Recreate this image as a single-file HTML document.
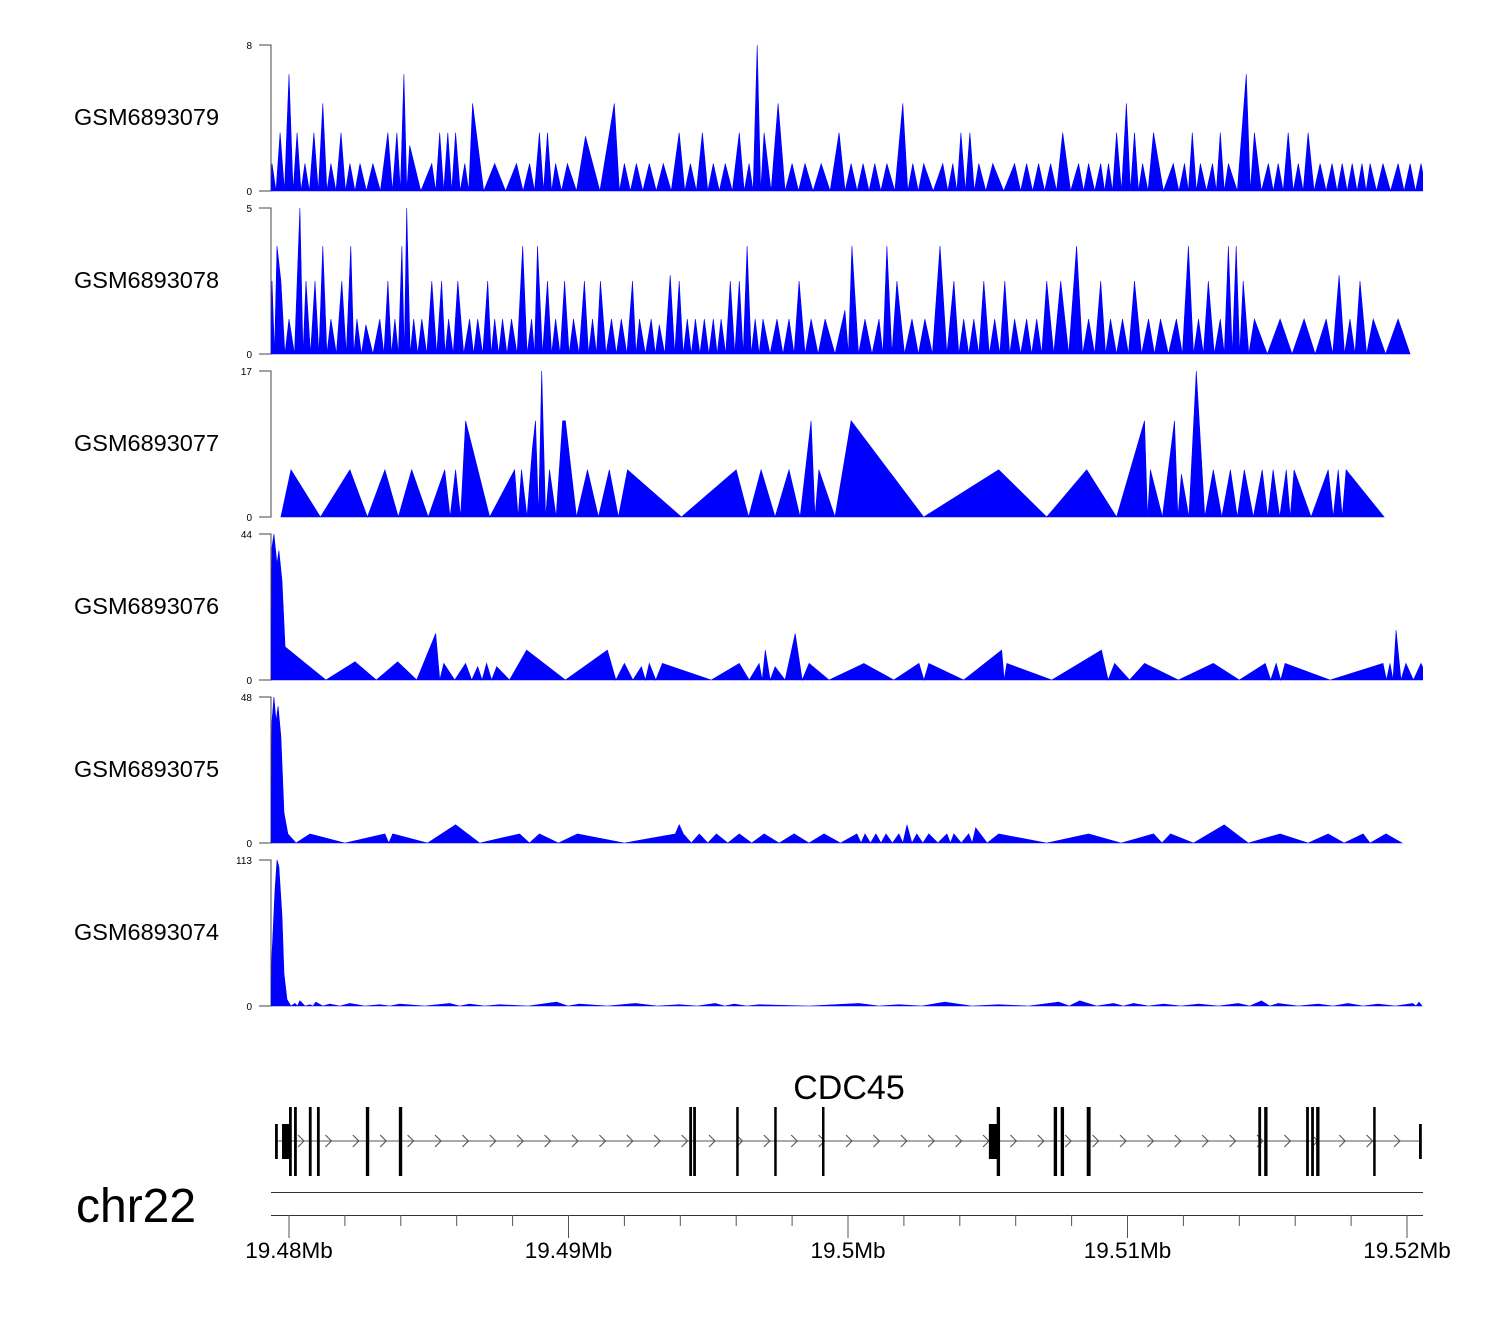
<!DOCTYPE html>
<html><head><meta charset="utf-8"><style>
html,body{margin:0;padding:0;background:#fff;}
svg{display:block;font-family:"Liberation Sans",Arial,sans-serif;}
</style></head><body>
<svg id="chart" width="1500" height="1320" viewBox="0 0 1500 1320" xmlns="http://www.w3.org/2000/svg"></svg>
<script>
// positions in kb relative to 19.48 Mb
const trackNames = ["GSM6893079","GSM6893078","GSM6893077","GSM6893076","GSM6893075","GSM6893074"];
const trackMax = [8,5,17,44,48,113];
const pos1 = [-0.61,-0.32,0,0.29,0.57,0.89,1.21,1.5,1.86,2.18,2.54,3,3.54,3.86,4.11,4.32,5.11,5.39,5.68,5.96,6.29,6.57,7.36,8.14,8.61,8.96,9.25,9.54,9.96,10.61,11.64,12,12.43,12.89,13.39,13.96,14.36,14.79,15.18,15.61,16.11,16.46,16.75,17,17.5,18,18.46,19.04,19.68,20.11,20.54,20.96,21.39,21.96,22.32,22.71,23.39,23.75,24.04,24.36,24.68,25.18,25.96,26.39,26.82,27.25,27.68,28.25,28.61,29.04,29.32,29.61,29.96,30.25,30.54,30.93,31.64,32.04,32.32,32.61,33.04,33.32,33.61,34.25,34.54,35.04,35.39,35.75,36.11,36.46,36.89,37.32,37.68,38.04,38.39,38.68,39.14,39.68,40.11,40.5];
const val1 = [1.5,3.2,6.4,3.2,1.5,3.2,4.8,1.5,3.2,1.5,1.5,1.5,3.2,3.2,6.4,2.5,1.5,3.2,3.2,3.2,1.5,4.8,1.5,1.5,1.5,3.2,3.2,1.5,1.5,3,4.8,1.5,1.5,1.5,1.5,3.2,1.5,3.2,1.5,1.5,3.2,1.5,8,3.2,4.8,1.5,1.5,1.5,3.2,1.5,1.5,1.5,1.5,4.8,1.5,1.5,1.5,1.5,3.2,3.2,1.5,1.5,1.5,1.5,1.5,1.5,3.2,1.5,1.5,1.5,1.5,3.2,4.8,3.2,1.5,3.2,1.5,1.5,3.2,1.5,1.5,3.2,1.5,6.4,3.2,1.5,1.5,3.2,1.5,3.2,1.5,1.5,1.5,1.5,1.5,1.5,1.5,1.5,1.5,1.5];
const pos2 = [-0.61,-0.43,-0.29,0,0.39,0.61,0.93,1.21,1.5,1.89,2.21,2.43,2.75,3.25,3.54,3.79,4.04,4.21,4.46,4.75,5.11,5.46,5.71,6.04,6.46,6.75,7.11,7.36,7.64,7.96,8.36,8.68,8.89,9.25,9.54,9.86,10.18,10.57,10.86,11.14,11.54,11.89,12.29,12.54,12.96,13.25,13.64,13.96,14.25,14.54,14.86,15.18,15.46,15.79,16.11,16.39,16.68,16.96,17.46,17.89,18.25,18.68,19.18,19.89,20.14,20.61,21.11,21.39,21.75,22.29,22.75,23.29,23.79,24.14,24.5,24.86,25.25,25.61,25.96,26.39,26.75,27.11,27.61,28.18,28.61,29.04,29.39,29.82,30.25,30.75,31.18,31.75,32.18,32.54,32.89,33.32,33.61,33.89,34.14,34.54,35.46,36.32,37.11,37.57,37.96,38.32,38.79,39.68,40.11];
const val2 = [2.5,3.7,2.5,1.2,5,2.5,2.5,3.7,1.2,2.5,3.7,1.2,1,1.2,2.5,1.2,3.7,5,1.2,1.2,2.5,2.5,1.2,2.5,1.2,1.2,2.5,1.2,1.2,1.2,3.7,1.2,3.7,2.5,1.2,2.5,1.2,2.5,1.2,2.5,1.2,1.2,2.5,1.2,1.2,1,2.7,2.5,1.2,1.2,1.2,1.2,1.2,2.5,2.5,3.7,1.2,1.2,1.2,1.2,2.5,1.2,1.2,1.5,3.7,1.2,1.2,3.7,2.5,1.2,1.2,3.7,2.5,1.2,1.2,2.5,1.2,2.5,1.2,1.2,1.2,2.5,2.5,3.7,1.2,2.5,1.2,1.2,2.5,1.2,1.2,1.2,3.7,1.2,2.5,1.2,3.7,3.7,2.5,1.2,1.2,1.2,1.2,2.7,1.2,2.5,1.2,1.2,0];
const pos3 = [-0.29,0.07,2.18,3.43,4.39,5.57,5.96,6.32,7.18,8.07,8.32,8.71,8.82,9.04,9.32,9.79,9.89,10.68,11.46,12.11,14.04,16,16.89,17.89,18.68,18.96,20.11,22.71,25.39,27.11,28.54,29.61,30.61,30.82,31.68,31.93,32.46,33.07,33.68,34.18,34.82,35.21,35.68,35.96,37.18,37.54,37.82,39.18];
const val3 = [0,5.5,5.5,5.5,5.5,5.5,5.5,11.2,0,5.5,5.5,8,11.2,17,5.5,11.2,11.2,5.5,5.5,5.5,0,5.5,5.5,5.5,11.2,5.5,11.2,0,5.5,0,5.5,0,11.2,5.5,11.2,5,17,5.5,5.5,5.5,5.5,5.5,5.5,5.5,5.5,5.5,5.5,0];
const pos4 = [-0.61,-0.54,-0.43,-0.36,-0.25,-0.14,1.32,2.36,3.89,5.25,5.54,6.32,6.75,7.07,7.43,7.89,8.5,9.89,11.39,12,12.61,12.89,13.36,15.11,16.11,16.82,17.04,17.39,18.11,18.61,19.32,20.57,21.64,22.54,22.89,24.14,25.5,25.68,27.29,29.07,29.54,30.61,31.82,33.07,34.93,35.32,35.64,37.25,39.14,39.39,39.61,39.96,40.5];
const val4 = [40,44,35,39,30,10,0,5.5,5.5,14,5,5,4,5,4,0,9,0,9,5,4,5,5,0,5,5,9,4,14,5,0,5,0,5,5,0,9,5,0,9,5,5,0,5,5,5,5,0,5,5,15,5,5];
const pos5 = [-0.61,-0.54,-0.46,-0.39,-0.29,-0.18,-0.04,0.25,0.75,2,3.43,3.71,4.96,5.96,6.82,8.25,8.96,10.32,12,13.82,13.96,14.11,14.68,15.29,16.11,17,18.07,19.14,20.32,20.61,21,21.36,21.82,22.11,22.46,22.89,23.54,23.79,24.32,24.57,25.39,27.11,28.61,30.93,31.54,32.36,33.46,34.32,35.46,36.46,37.18,37.75,38.43,38.68,39.25,39.82];
const val5 = [40,48,40,45,35,10,3,0,3,0,3,3,0,6,0,3,3,3,0,3,6,3,3,3,3,3,3,3,3,3,3,3,3,6,3,3,3,3,3,5,3,0,3,3,3,0,6,0,3,0,3,0,3,0,3,0];
const pos6 = [-0.61,-0.5,-0.43,-0.36,-0.25,-0.18,-0.07,0.21,0.39,0.75,0.96,1.46,2.18,3.25,3.96,5.75,6.46,7.54,9.57,10.39,12.39,13.96,15.25,15.93,16.82,20.39,21.82,23.46,25.39,27.54,28.29,29.5,30.21,31.29,32.54,33.96,34.79,35.39,36.82,37.89,38.96,40.21,40.43];
const val6 = [40,90,113,108,70,25,5,2,4,1,3,1.5,2,1,1.5,2,1.5,1,3,1.5,2,1,2,1.5,1,2,1,3,1,3,4,2,2,1.5,1.5,2,4,2,1.5,2,1.5,2,3];
const trackPos = [pos1,pos2,pos3,pos4,pos5,pos6];
const trackVal = [val1,val2,val3,val4,val5,val6];
// gene model
const exonStart = [-0.5,-0.25,0,0.18,0.71,1,2.75,3.93,14.32,14.46,16,17.36,19.07,25.04,25.32,27.36,27.61,28.54,34.68,34.89,36.39,36.57,36.75,38.79,40.43];
const exonWidth = [0.1,0.32,0.1,0.1,0.1,0.1,0.12,0.12,0.1,0.1,0.08,0.08,0.08,0.32,0.12,0.12,0.12,0.14,0.1,0.12,0.1,0.1,0.12,0.08,0.1];
const exonTall = [0,0,1,1,1,1,1,1,1,1,1,1,1,0,1,1,1,1,1,1,1,1,1,1,0];
const axisTicks = [0,10,20,30,40];
const axisLabels = ["19.48Mb","19.49Mb","19.5Mb","19.51Mb","19.52Mb"];

const NS="http://www.w3.org/2000/svg";
const svg=document.getElementById('chart');
const X0=271, X1=1423, KBMIN=-0.644, KBMAX=40.58;
function xs(kb){return 289+kb*27.95;}
function mk(tag,attrs,parent){const e=document.createElementNS(NS,tag);for(const k in attrs)e.setAttribute(k,attrs[k]);(parent||svg).appendChild(e);return e;}

const defs=mk('defs',{});
const cp=mk('clipPath',{id:'plotclip'},defs);
mk('rect',{x:X0,y:0,width:X1-X0,height:1320},cp);

for(let t=0;t<6;t++){
  const top=45+t*163, base=top+146;
  const ys=v=>base-v/trackMax[t]*146;
  const g=mk('g',{});
  
  
  const lab=mk('text',{x:74,y:top+80,'font-size':23.5,fill:'#000'},g);
  lab.textContent=trackNames[t];
  
  
  const ax=mk('path',{d:`M259 ${top}H271V${base}H259`,fill:'none',stroke:'#444','stroke-width':1},g);
  
  
  const tt=mk('text',{x:252,y:top+4,'font-size':10,'text-anchor':'end',fill:'#000'},g);
  tt.textContent=String(trackMax[t]);
  
  
  const tb=mk('text',{x:252,y:base+4,'font-size':10,'text-anchor':'end',fill:'#000'},g);
  tb.textContent='0';
  
  
  const P=trackPos[t],V=trackVal[t];
  let pts=[];
  const d0=P.length>1?(P[1]-P[0])/2:0.2;
  pts.push([Math.max(KBMIN,P[0]-(V[0]>0?d0:0)),0]);
  for(let i=0;i<P.length;i++){
    pts.push([P[i],V[i]]);
    if(i<P.length-1 && V[i]>0 && V[i+1]>0 && (P[i+1]-P[i])>0.15) pts.push([(P[i]+P[i+1])/2,0]);
  }
  const n=P.length;
  const dl=n>1?(P[n-1]-P[n-2])/2:0.2;
  pts.push([P[n-1]+(V[n-1]>0?dl:0),0]);
  const dstr=pts.map((p,i)=>(i?'L':'M')+xs(p[0]).toFixed(1)+' '+ys(p[1]).toFixed(1)).join('')+'Z';
  const poly=mk('path',{d:dstr,fill:'#0000ff',stroke:'#0000ff','stroke-width':0.6,'clip-path':'url(#plotclip)'},g);
  
  
}

const gg=mk('g',{});


const gl=mk('text',{x:849,y:1099,'font-size':34,'text-anchor':'middle',fill:'#000'},gg);
gl.textContent='CDC45';


const ln=mk('line',{x1:xs(exonStart[0]),x2:xs(exonStart[exonStart.length-1]),y1:1141,y2:1141,stroke:'#777','stroke-width':1.2},gg);


for(let a=298;a<1420;a+=27.4){
  const ar=mk('path',{d:`M${a} 1135L${a+6} 1141L${a} 1147`,fill:'none',stroke:'#555','stroke-width':1.1},gg);
  
  
}
for(let i=0;i<exonStart.length;i++){
  const y0=exonTall[i]?1107:1124, y1=exonTall[i]?1176:1159;
  const r=mk('rect',{x:xs(exonStart[i]),y:y0,width:Math.max(2.5,exonWidth[i]*27.95),height:y1-y0,fill:'#000'},gg);
  
  
}
const sep=mk('line',{x1:X0,x2:X1,y1:1192.5,y2:1192.5,stroke:'#333','stroke-width':1},svg);



const ga=mk('g',{});


mk('line',{x1:X0,x2:X1,y1:1215.5,y2:1215.5,stroke:'#333','stroke-width':1},ga);
for(let k=0;k<=40;k+=2){
  const major=axisTicks.indexOf(k)>=0;
  const tk=mk('line',{x1:xs(k),x2:xs(k),y1:1215,y2:major?1238:1226,stroke:'#555','stroke-width':1},ga);
  
  
}
for(let i=0;i<axisTicks.length;i++){
  const tl=mk('text',{x:xs(axisTicks[i]),y:1258,'font-size':22.5,'text-anchor':'middle',fill:'#000'},ga);
  tl.textContent=axisLabels[i];
  
  
}
const chr=mk('text',{x:76,y:1222,'font-size':48,fill:'#000'},svg);
chr.textContent='chr22';


</script>
</body></html>
